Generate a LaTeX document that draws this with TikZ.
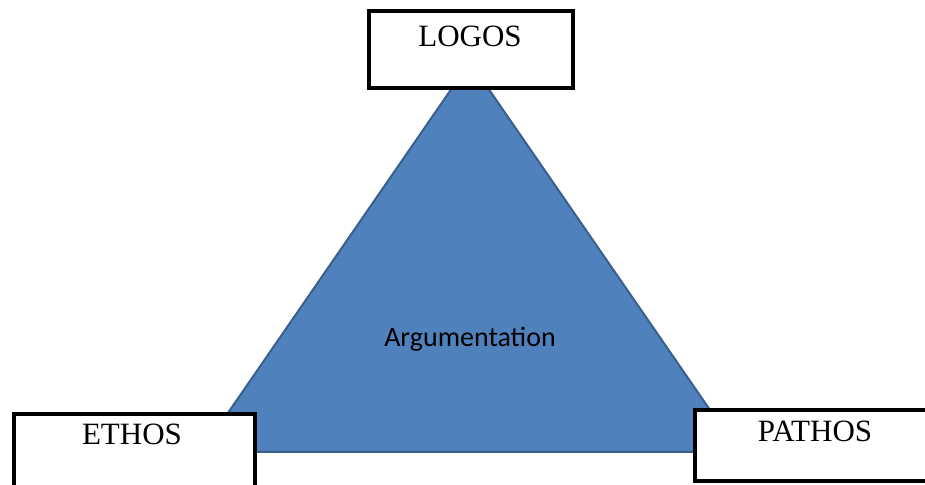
\documentclass[tikz,border=0pt]{standalone}
\usepackage{fontspec}
\setmainfont{Liberation Serif}
\newfontfamily\argfont{Carlito}
\usepackage{tikz}
\usetikzlibrary{positioning}
\definecolor{argblue}{HTML}{4F81BD}
\definecolor{argedge}{HTML}{3A5F8C}
\tikzset{
  appealbox/.style={draw=black, line width=4.5pt, fill=white, inner sep=0pt},
  appealtext/.style={anchor=base, font=\fontsize{31}{33}\selectfont},
}
\begin{document}
\begin{tikzpicture}[x=1pt, y=1pt]
    \useasboundingbox (0,0) rectangle (925,484);
    \clip (0,0) rectangle (925,484);
    % triangle
    \coordinate (top) at (470,422);
    \coordinate (left) at (201,32);
    \coordinate (right) at (739,32);
    \fill[argblue, draw=argedge, line width=2pt] (top) -- (left) -- (right) -- cycle;
    \node[anchor=base, font=\argfont\fontsize{28}{30}\selectfont] (argumentation) at (470,137) {Argumentation};
    % boxes
    \node[appealbox, minimum width=204, minimum height=77] (logos) at (471,434.5) {};
    \node[appealbox, minimum width=241, minimum height=81] (ethos) at (134.5,29.5) {};
    \node[appealbox, minimum width=240, minimum height=71] (pathos) at (815,38.5) {};
    \node[appealtext] (logostext) at (470,437) {LOGOS};
    \node[appealtext] (ethostext) at (132,39) {ETHOS};
    \node[appealtext] (pathostext) at (815,42) {PATHOS};
\end{tikzpicture}
\end{document}
